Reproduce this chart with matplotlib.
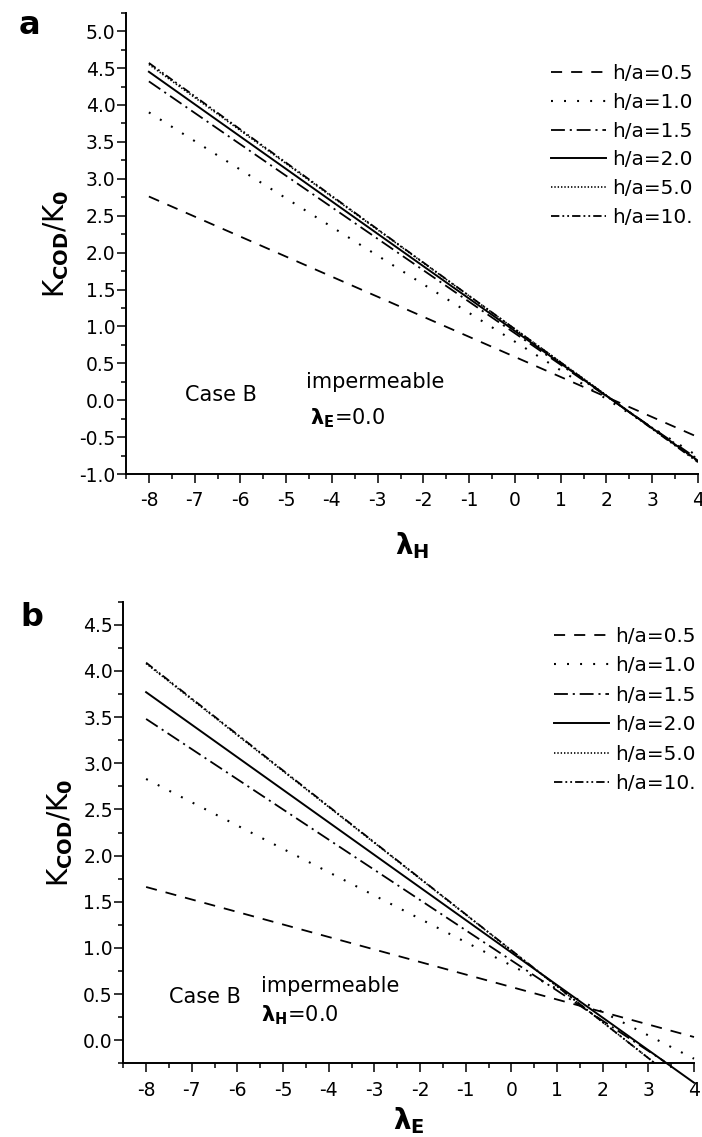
import matplotlib
matplotlib.use("Agg")
import matplotlib.pyplot as plt
from matplotlib.ticker import MultipleLocator, FormatStrFormatter

plt.rcParams['font.family'] = ['DejaVu Sans']
plt.rcParams['mathtext.fontset'] = 'dejavusans'
plt.rcParams['axes.unicode_minus'] = False
plt.rcParams['lines.scale_dashes'] = False

# ---------------- data ----------------
labels = ["h/a=0.5", "h/a=1.0", "h/a=1.5", "h/a=2.0", "h/a=5.0", "h/a=10."]

# panel a: K_COD/K_0 vs lambda_H (lambda_E = 0)
a_x_05 = [-8, 4];  a_y_05 = [2.76, -0.50]
a_x_10 = [-8, 4];  a_y_10 = [3.90, -0.76]
a_x_15 = [-8, 4];  a_y_15 = [4.32, -0.80]
a_x_20 = [-8, 4];  a_y_20 = [4.45, -0.82]
a_x_50 = [-8, 4];  a_y_50 = [4.55, -0.83]
a_x_100 = [-8, 4]; a_y_100 = [4.57, -0.84]

# panel b: K_COD/K_0 vs lambda_E (lambda_H = 0)
b_x_05 = [-8, 4];     b_y_05 = [1.66, 0.035]
b_x_10 = [-8, 4];     b_y_10 = [2.83, -0.20]
b_x_15 = [-8, 3.35];  b_y_15 = [3.48, -0.23]
b_x_20 = [-8, 4];     b_y_20 = [3.77, -0.46]
b_x_50 = [-8, 3.12];  b_y_50 = [4.08, -0.24]
b_x_100 = [-8, 3.12]; b_y_100 = [4.09, -0.24]

x_ticks = [-8, -7, -6, -5, -4, -3, -2, -1, 0, 1, 2, 3, 4]
a_y_ticks = [-1.0, -0.5, 0.0, 0.5, 1.0, 1.5, 2.0, 2.5, 3.0, 3.5, 4.0, 4.5, 5.0]
b_y_ticks = [0.0, 0.5, 1.0, 1.5, 2.0, 2.5, 3.0, 3.5, 4.0, 4.5]

# ---------------- styles ----------------
styles = [
    dict(dashes=[8, 6.5], lw=1.3),
    dict(dashes=[1.4, 8.0], lw=1.5),
    dict(dashes=[10, 3.5, 1.5, 3.5], lw=1.3),
    dict(linestyle='-', lw=1.4),
    dict(dashes=[1.0, 1.4], lw=1.2),
    dict(dashes=[6, 2.2, 1.3, 2.2, 1.3, 2.2], lw=1.3),
]

fig = plt.figure(figsize=(7.02, 11.37), dpi=100)
ax1 = fig.add_axes([0.1795, 0.5831, 0.8148, 0.4057])
ax2 = fig.add_axes([0.1756, 0.0648, 0.8130, 0.4060])

def style_axes(ax, ylim, yticks):
    ax.set_xlim(-8.5, 4)
    ax.set_ylim(*ylim)
    for s in ['top', 'right']:
        ax.spines[s].set_visible(False)
    for s in ['left', 'bottom']:
        ax.spines[s].set_linewidth(1.4)
    ax.set_xticks(x_ticks)
    ax.xaxis.set_minor_locator(MultipleLocator(0.5))
    ax.set_yticks(yticks)
    ax.yaxis.set_minor_locator(MultipleLocator(0.25))
    ax.yaxis.set_major_formatter(FormatStrFormatter('%.1f'))
    ax.tick_params(which='major', direction='out', length=6.5, width=1.1, labelsize=13.5)
    ax.tick_params(axis='y', which='major', pad=1)
    ax.tick_params(axis='x', which='major', pad=6)
    ax.tick_params(which='minor', direction='out', length=3.6, width=1.1)

xs_a = [a_x_05, a_x_10, a_x_15, a_x_20, a_x_50, a_x_100]
ys_a = [a_y_05, a_y_10, a_y_15, a_y_20, a_y_50, a_y_100]
xs_b = [b_x_05, b_x_10, b_x_15, b_x_20, b_x_50, b_x_100]
ys_b = [b_y_05, b_y_10, b_y_15, b_y_20, b_y_50, b_y_100]

for x, y, lab, st in zip(xs_a, ys_a, labels, styles):
    ax1.plot(x, y, color='black', label=lab, dash_capstyle='butt', **st)
for x, y, lab, st in zip(xs_b, ys_b, labels, styles):
    ax2.plot(x, y, color='black', label=lab, clip_on=False, dash_capstyle='butt', **st)

style_axes(ax1, (-1.0, 5.25), a_y_ticks)
style_axes(ax2, (-0.25, 4.75), b_y_ticks)

ylab = r'$\mathrm{K}_{\mathbf{COD}}/\mathrm{K}_{\mathbf{0}}$'
for ax, anchor, sp in ((ax1, (0.743, 0.889), 0.49), (ax2, (0.755, 0.945), 0.52)):
    ax.set_ylabel(ylab, fontsize=20, labelpad=6)
    ax.legend(loc='upper left', frameon=False, fontsize=14.4, handlelength=2.75,
              handletextpad=0.3, labelspacing=sp, borderaxespad=0.0, borderpad=0.0,
              bbox_to_anchor=anchor)

ax1.set_xlabel(r'$\mathbf{\lambda_{H}}$', fontsize=20, labelpad=14)
ax2.set_xlabel(r'$\mathbf{\lambda_{E}}$', fontsize=20, labelpad=4)

# annotations
ax1.text(-7.2, 0.07, 'Case B', fontsize=15, ha='left', va='center')
ax1.text(-4.57, 0.25, 'impermeable', fontsize=15, ha='left', va='center')
ax1.text(-4.47, -0.24, r'$\mathbf{\lambda_{E}}$=0.0', fontsize=15, ha='left', va='center')

ax2.text(-7.49, 0.465, 'Case B', fontsize=15, ha='left', va='center')
ax2.text(-5.49, 0.59, 'impermeable', fontsize=15, ha='left', va='center')
ax2.text(-5.48, 0.27, r'$\mathbf{\lambda_{H}}$=0.0', fontsize=15, ha='left', va='center')

fig.text(29 / 702, 1 - 26 / 1137, 'a', fontsize=23, fontweight='bold', ha='center', va='center')
fig.text(32 / 702, 1 - 618 / 1137, 'b', fontsize=23, fontweight='bold', ha='center', va='center')

fig.savefig('out.png', dpi=100)
